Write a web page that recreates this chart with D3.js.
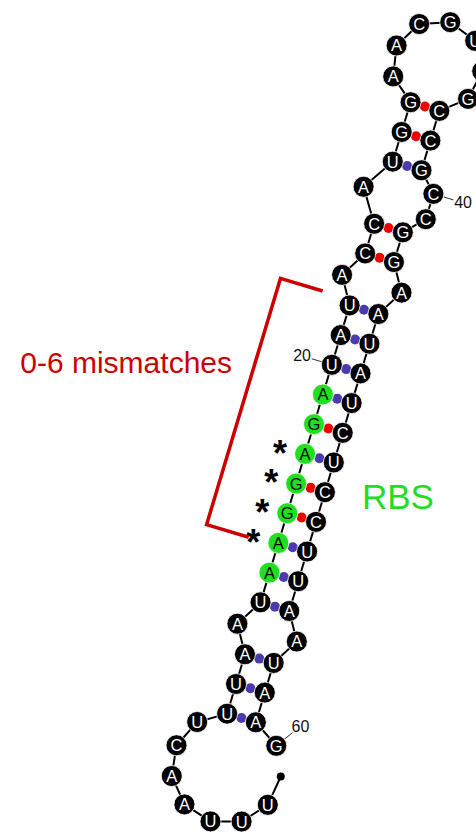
<!DOCTYPE html>
<html>
<head>
<meta charset="utf-8">
<script src="https://cdn.jsdelivr.net/npm/d3@7"></script>
<style>
  html, body { margin: 0; padding: 0; background: #fff; }
  svg { display: block; }
</style>
</head>
<body>
<svg id="chart" width="476" height="835"></svg>
<script>
// RNA sequence (5' -> 3') and its secondary structure in dot-bracket notation
const sequence  = "UUUAACUUUAAUAAGGAGAUAUACCAUGGAACGUAGCCGCCGGAAUAUCUCCUUAAUAAG";
const structure = ".......(((.(((((((((((.((.(((.......)))..)).))))))))))).))).";

// Annotated positions (1-based nucleotide numbers)
const rbsRange       = [13, 19];          // ribosome binding site, highlighted green
const mismatchMarks  = [14, 15, 16, 17];  // positions flagged with an asterisk
const bracketRange   = [14, 22];          // span covered by the red bracket
const numberLabels   = [20, 40, 60];      // position numbers shown next to bases
const bracketLabel   = "0-6 mismatches";
const rbsLabel       = "RBS";

// ---------- geometry settings ----------
const STEP = 31;      // backbone spacing / stacking distance
const HALF = 15;      // half the width of a base pair
const TILT = 16.7 * Math.PI / 180;  // stem axis tilt from vertical
const NT_R = 10.5, PAIR_R = 5, END_R = 4;

const W = 476, H = 835;
// model coordinates are 1:1 with pixels, y pointing up; origin at the first closing pair
const x = d3.scaleLinear().domain([-241.5, W - 241.5]).range([0, W]);
const y = d3.scaleLinear().domain([718, 718 - H]).range([0, H]);

// ---------- pairing table ----------
const N = sequence.length;
const partner = new Array(N + 1).fill(0);
{
  const stack = [];
  for (let k = 1; k <= N; k++) {
    const c = structure[k - 1];
    if (c === "(") stack.push(k);
    else if (c === ")") { const i = stack.pop(); partner[i] = k; partner[k] = i; }
  }
}

// ---------- layout in stem frame: u along the axis, v across it ----------
const pos = new Array(N + 1);
let endMark = null;
const pairs = [];
const polyR = n => STEP / (2 * Math.sin(Math.PI / n));
const onCircle = (cu, R, phi) => ({ u: cu + R * Math.sin(phi), v: R * Math.cos(phi) });

let i = 1; while (!partner[i]) i++;
let j = partner[i];
let u = 0;

// exterior loop: dangling ends sit on a circle below the first pair
{
  const n = (i - 1) + (N - j) + 3;
  const R = polyR(n), h = Math.sqrt(R * R - HALF * HALF);
  const a0 = Math.atan2(h, -HALF), a1 = Math.atan2(h, HALF) + 2 * Math.PI;
  const da = (a1 - a0) / (n - 1);
  const order = [];
  for (let k = i - 1; k >= 1; k--) order.push(k);
  order.push(0);                       // 5' end marker
  for (let k = N; k > j; k--) order.push(k);
  order.forEach((k, idx) => {
    const phi = a0 + da * (idx + 1);
    const p = onCircle(-h, R, phi);
    // labels on the outer ring lean a little toward the stem
    const lp = phi + 0.25;
    p.dir = [Math.sin(lp), Math.cos(lp)];
    if (k === 0) endMark = p; else pos[k] = p;
  });
}

// walk the stem from the outside in
while (true) {
  pos[i] = { u, v: -HALF, dir: [0, -1] };
  pos[j] = { u, v: HALF, dir: [0, 1] };
  pairs.push([i, j]);
  let k = i + 1; while (k < j && !partner[k]) k++;
  if (k >= j) {
    // hairpin loop
    const n = j - i + 1;
    const R = polyR(n), h = Math.sqrt(R * R - HALF * HALF), cu = u + h;
    const a0 = Math.atan2(-h, -HALF) + 2 * Math.PI, a1 = Math.atan2(-h, HALF);
    const da = (a1 - a0) / (n - 1);
    for (let m = i + 1; m < j; m++) {
      const phi = a0 + da * (m - i);
      const p = onCircle(cu, R, phi);
      p.dir = [Math.sin(phi), Math.cos(phi)];
      pos[m] = p;
    }
    break;
  }
  const k2 = partner[k];
  const left = k - i - 1, right = j - k2 - 1;
  if (!left && !right) { u += STEP; i = k; j = k2; continue; }
  // internal loop: both closing pairs are chords of one circle, stems stay aligned
  const n = left + right + 4;
  const R = polyR(n), h = Math.sqrt(R * R - HALF * HALF), cu = u + h;
  {
    const a0 = Math.atan2(-h, -HALF) + 2 * Math.PI, a1 = Math.atan2(h, -HALF);
    for (let m = 1; m <= left; m++) {
      const p = onCircle(cu, R, a0 + (a1 - a0) * m / (left + 1));
      p.dir = [0, -1];
      pos[i + m] = p;
    }
  }
  {
    const a0 = Math.atan2(h, HALF), a1 = Math.atan2(-h, HALF);
    for (let m = 1; m <= right; m++) {
      const p = onCircle(cu, R, a0 + (a1 - a0) * m / (right + 1));
      p.dir = [0, 1];
      pos[k2 + m] = p;
    }
  }
  u = cu + h; i = k; j = k2;
}

// stem frame -> tilted model frame -> pixels
const ct = Math.cos(TILT), st = Math.sin(TILT);
const toModel = (uu, vv) => [vv * ct + uu * st, uu * ct - vv * st];
const px = (uu, vv) => { const m = toModel(uu, vv); return [x(m[0]), y(m[1])]; };
const dirPx = d => { const m = toModel(d[0], d[1]); return [m[0], -m[1]]; };

const nodes = d3.range(1, N + 1).map(k => {
  const p = pos[k];
  const [X, Y] = px(p.u, p.v);
  return { k, base: sequence[k - 1], X, Y, p };
});
const byNum = k => nodes[k - 1];

const svg = d3.select("#chart");

// ---------- backbone ----------
const line = d3.line().x(d => d[0]).y(d => d[1]);
const endPx = px(endMark.u, endMark.v);
svg.append("path")
  .attr("d", line([endPx].concat(nodes.map(d => [d.X, d.Y]))))
  .attr("fill", "none").attr("stroke", "#000").attr("stroke-width", 2);
svg.append("circle").attr("cx", endPx[0]).attr("cy", endPx[1]).attr("r", END_R).attr("fill", "#000");

// ---------- base pair dots ----------
const pairColor = (a, b) => {
  const s = a + b;
  return (s === "GC" || s === "CG") ? "#f00000" : "#4a3aad";
};
svg.append("g").selectAll("circle").data(pairs).join("circle")
  .attr("cx", d => (byNum(d[0]).X + byNum(d[1]).X) / 2)
  .attr("cy", d => (byNum(d[0]).Y + byNum(d[1]).Y) / 2)
  .attr("r", PAIR_R)
  .attr("fill", d => pairColor(sequence[d[0] - 1], sequence[d[1] - 1]));

// ---------- number labels ----------
const lab = svg.append("g");
numberLabels.forEach(k => {
  const d = byNum(k);
  const [dx, dy] = dirPx(d.p.dir);
  lab.append("line")
    .attr("x1", d.X + dx * (NT_R)).attr("y1", d.Y + dy * (NT_R))
    .attr("x2", d.X + dx * 21).attr("y2", d.Y + dy * 21)
    .attr("stroke", "#333").attr("stroke-width", 1);
  lab.append("text")
    .attr("x", d.X + dx * 31).attr("y", d.Y + dy * 31)
    .attr("text-anchor", "middle").attr("dy", "0.35em")
    .attr("font-family", "Liberation Sans, Arial, sans-serif").attr("font-size", 16)
    .attr("fill", "#111").text(k);
});

// ---------- nucleotides ----------
const inRbs = k => k >= rbsRange[0] && k <= rbsRange[1];
const nt = svg.append("g").selectAll("g").data(nodes).join("g")
  .attr("transform", d => `translate(${d.X},${d.Y})`);
nt.append("circle").attr("r", NT_R)
  .attr("fill", d => inRbs(d.k) ? "#1fe01f" : "#000")
  .attr("stroke", "#fff").attr("stroke-width", 0.8);
nt.append("text")
  .attr("text-anchor", "middle").attr("dy", "0.36em")
  .attr("font-family", "Liberation Sans, Arial, sans-serif").attr("font-size", 16.5)
  .attr("fill", d => inRbs(d.k) ? "#000" : "#fff")
  .text(d => d.base);

// ---------- mismatch asterisks ----------
svg.append("g").selectAll("text").data(mismatchMarks).join("text")
  .attr("x", k => px(byNum(k).p.u + 3, -42)[0])
  .attr("y", k => px(byNum(k).p.u + 3, -42)[1])
  .attr("dy", "0.62em")
  .attr("text-anchor", "middle")
  .attr("font-family", "Liberation Sans, Arial, sans-serif").attr("font-size", 36).attr("font-weight", "bold")
  .attr("fill", "#000").text("*");

// ---------- bracket ----------
const uLo = byNum(bracketRange[0]).p.u - 3, uHi = byNum(bracketRange[1]).p.u + 6;
svg.append("path")
  .attr("d", line([px(uHi, -45), px(uHi, -89), px(uLo, -89), px(uLo, -45)]))
  .attr("fill", "none").attr("stroke", "#cc0000").attr("stroke-width", 3.5);

// ---------- annotation texts ----------
svg.append("text")
  .attr("x", 232).attr("y", 373).attr("text-anchor", "end")
  .attr("font-family", "Liberation Sans, Arial, sans-serif").attr("font-size", 30)
  .attr("fill", "#cc0000").text(bracketLabel);
svg.append("text")
  .attr("x", 362).attr("y", 509)
  .attr("font-family", "Liberation Sans, Arial, sans-serif").attr("font-size", 35)
  .attr("fill", "#22dd22").text(rbsLabel);
</script>
</body>
</html>
